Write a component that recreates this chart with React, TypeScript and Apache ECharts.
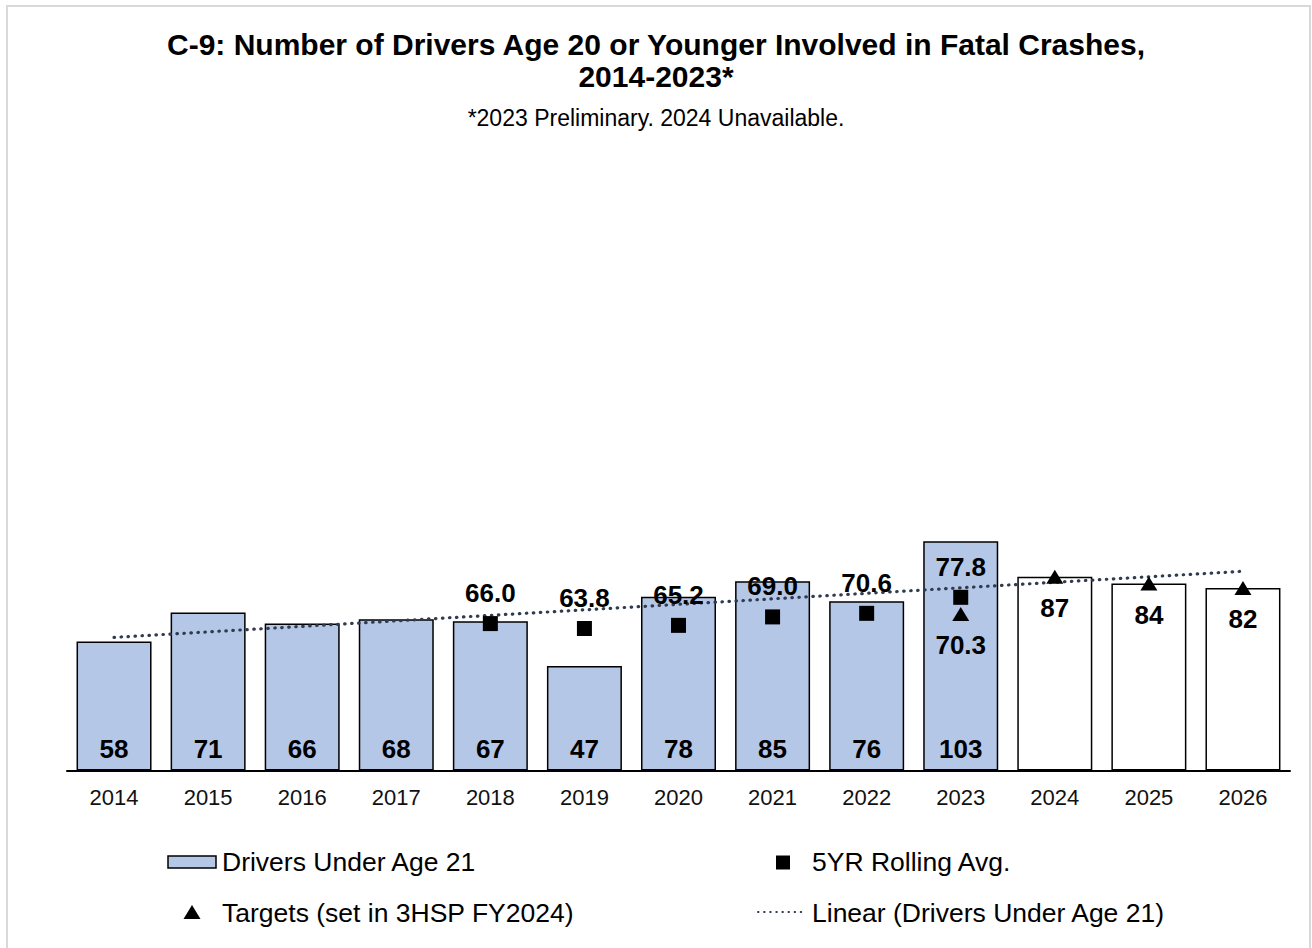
import React, { useEffect, useRef } from "react";
import * as echarts from "echarts";

const years = ["2014", "2015", "2016", "2017", "2018", "2019", "2020", "2021", "2022", "2023", "2024", "2025", "2026"];
const drivers = [58, 71, 66, 68, 67, 47, 78, 85, 76, 103, 87, 84, 82];
const actualCount = 10; // 2014-2023 are actual (blue); later years are target bars (white)
const rollingAvg = [null, null, null, null, 66.0, 63.8, 65.2, 69.0, 70.6, 77.8, null, null, null];
const targets = [null, null, null, null, null, null, null, null, null, 70.3, 87, 84, 82];
const trendYears = ["2014", "2026"];
const trendValues = [59.8, 89.5];

const FONT = "'Liberation Sans', Arial, Helvetica, sans-serif";
const BLUE = "#B4C7E7";
const LEGEND_FONT = `26.5px ${FONT}`;

export default function App() {
  const ref = useRef<HTMLDivElement>(null);

  useEffect(() => {
    document.body.style.margin = "0";
    if (!ref.current) return;
    const chart = echarts.init(ref.current, null, { renderer: "svg" });

    const barData = drivers.map((v, i) =>
      i < actualCount
        ? { value: v }
        : { value: v, itemStyle: { color: "#FFFFFF" }, label: { show: false } }
    );

    const option = {
      animation: false,
      backgroundColor: "#FFFFFF",
      textStyle: { fontFamily: FONT },
      title: [
        {
          text: "C-9: Number of Drivers Age 20 or Younger Involved in Fatal Crashes,\n2014-2023*",
          left: "center",
          top: 23,
          textStyle: {
            fontFamily: FONT,
            fontSize: 30,
            fontWeight: "bold",
            color: "#000",
            lineHeight: 32,
          },
        },
        {
          text: "*2023 Preliminary. 2024 Unavailable.",
          left: "center",
          top: 100,
          textStyle: {
            fontFamily: FONT,
            fontSize: 23,
            fontWeight: "normal",
            color: "#000",
            lineHeight: 26,
          },
        },
      ],
      grid: { left: 67, right: 22, top: 214, bottom: 177.5, containLabel: false },
      xAxis: {
        type: "category",
        data: years,
        axisLine: { show: true, lineStyle: { color: "#000", width: 2 } },
        axisTick: { show: false },
        axisLabel: { fontFamily: FONT, fontSize: 22, color: "#111", margin: 16 },
        splitLine: { show: false },
      },
      yAxis: {
        type: "value",
        min: 0,
        max: 250,
        show: false,
        splitLine: { show: false },
      },
      series: [
        {
          name: "Drivers Under Age 21",
          type: "bar",
          data: barData,
          barWidth: 75,
          itemStyle: { color: BLUE, borderColor: "#000", borderWidth: 1.5 },
          label: {
            show: true,
            position: "insideBottom",
            distance: 9,
            fontFamily: FONT,
            fontSize: 26,
            fontWeight: "bold",
            color: "#000",
          },
          z: 2,
        },
        {
          name: "Linear (Drivers Under Age 21)",
          type: "line",
          data: trendYears.map((y, i) => [y, trendValues[i]]),
          showSymbol: false,
          symbol: "none",
          lineStyle: { color: "#2F3B4F", width: 3.2, type: [0.5, 6.5], cap: "round" },
          z: 3,
        },
        {
          name: "5YR Rolling Avg.",
          type: "scatter",
          data: rollingAvg,
          symbol: "rect",
          symbolSize: 15,
          itemStyle: { color: "#000", opacity: 1 },
          label: {
            show: true,
            position: "top",
            distance: 10,
            fontFamily: FONT,
            fontSize: 26,
            fontWeight: "bold",
            color: "#000",
            opacity: 1,
            formatter: (p: any) => Number(p.value).toFixed(1),
          },
          z: 4,
        },
        {
          name: "Targets (set in 3HSP FY2024)",
          type: "scatter",
          data: targets,
          symbol: "triangle",
          symbolSize: [17, 14],
          itemStyle: { color: "#000", opacity: 1 },
          label: {
            show: true,
            position: "bottom",
            distance: 11,
            fontFamily: FONT,
            fontSize: 26,
            fontWeight: "bold",
            color: "#000",
            opacity: 1,
          },
          z: 4,
        },
      ],
      graphic: [
        {
          type: "rect",
          shape: { x: 7, y: 6, width: 1303, height: 1000 },
          style: { fill: "none", stroke: "#D9D9D9", lineWidth: 2 },
          silent: true,
        },
        {
          type: "rect",
          shape: { x: 168, y: 856, width: 48, height: 12 },
          style: { fill: BLUE, stroke: "#000", lineWidth: 1.5 },
        },
        {
          type: "text",
          x: 222,
          y: 862,
          style: {
            text: "Drivers Under Age 21",
            font: LEGEND_FONT,
            fill: "#000",
            verticalAlign: "middle",
          },
        },
        {
          type: "rect",
          shape: { x: 776, y: 855.5, width: 14, height: 14 },
          style: { fill: "#000" },
        },
        {
          type: "text",
          x: 812,
          y: 862,
          style: {
            text: "5YR Rolling Avg.",
            font: LEGEND_FONT,
            fill: "#000",
            verticalAlign: "middle",
          },
        },
        {
          type: "polygon",
          shape: { points: [[183.5, 919], [200.5, 919], [192, 905]] },
          style: { fill: "#000" },
        },
        {
          type: "text",
          x: 222,
          y: 913,
          style: {
            text: "Targets (set in 3HSP FY2024)",
            font: LEGEND_FONT,
            fill: "#000",
            verticalAlign: "middle",
          },
        },
        {
          type: "line",
          shape: { x1: 758, y1: 912, x2: 804, y2: 912 },
          style: { stroke: "#2F3B4F", lineWidth: 2, lineDash: [0.5, 5.6], lineCap: "round" },
        },
        {
          type: "text",
          x: 812,
          y: 913,
          style: {
            text: "Linear (Drivers Under Age 21)",
            font: LEGEND_FONT,
            fill: "#000",
            verticalAlign: "middle",
          },
        },
      ],
    };

    chart.setOption(option as any);
    return () => {
      chart.dispose();
    };
  }, []);

  return <div ref={ref} style={{ width: 1312, height: 948 }} />;
}
